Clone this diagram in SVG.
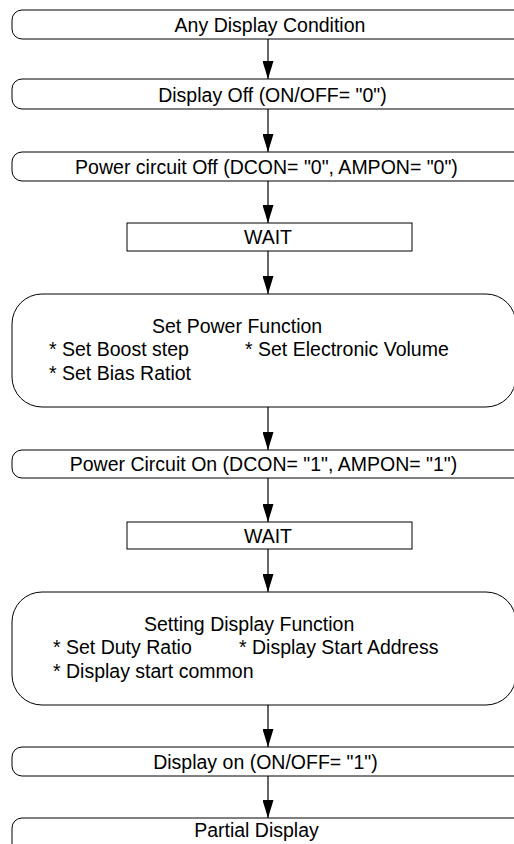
<svg xmlns="http://www.w3.org/2000/svg" width="514" height="844" viewBox="0 0 514 844">
<style>
.box{fill:#fff;stroke:#000;stroke-width:1}
text{font-family:"Liberation Sans",Arial,sans-serif;font-size:19.5px;fill:#000}
.c{text-anchor:middle}
.conn line{stroke:#000;stroke-width:1.2}
</style>
<defs>
<marker id="arr" markerWidth="18" markerHeight="11" refX="18" refY="5.5" orient="auto" markerUnits="userSpaceOnUse" viewBox="0 0 18 11">
<path d="M0,0 L18,5.5 L0,11 Z" fill="#000"/>
</marker>
</defs>
<rect width="514" height="844" fill="#fff"/>
<g id="n1"><rect class="box" x="12" y="10" width="530" height="29" rx="10"/><text class="c" x="270" y="31.5">Any Display Condition</text></g>
<g id="n2"><rect class="box" x="12" y="79" width="530" height="30" rx="10"/><text class="c" x="272.5" y="101.5">Display Off (ON/OFF= "0")</text></g>
<g id="n3"><rect class="box" x="12" y="152" width="530" height="29" rx="10"/><text class="c" x="266.5" y="173.5">Power circuit Off (DCON= "0", AMPON= "0")</text></g>
<g id="n4"><rect class="box" x="127" y="223" width="285" height="28"/><text class="c" x="268" y="244">WAIT</text></g>
<g id="n5"><rect class="box" x="12" y="294" width="504" height="113" rx="30"/>
<text x="152" y="333">Set Power Function</text>
<text x="49" y="356">* Set Boost step</text>
<text x="245" y="356">* Set Electronic Volume</text>
<text x="49" y="380">* Set Bias Ratiot</text></g>
<g id="n6"><rect class="box" x="12" y="450" width="530" height="28" rx="10"/><text class="c" x="263.5" y="471">Power Circuit On (DCON= "1", AMPON= "1")</text></g>
<g id="n7"><rect class="box" x="127" y="522" width="285" height="27"/><text class="c" x="268" y="543">WAIT</text></g>
<g id="n8"><rect class="box" x="12" y="592" width="504" height="113" rx="30"/>
<text x="144" y="631">Setting Display Function</text>
<text x="53" y="654">* Set Duty Ratio</text>
<text x="239" y="654">* Display Start Address</text>
<text x="53" y="678">* Display start common</text></g>
<g id="n9"><rect class="box" x="12" y="747" width="530" height="29" rx="10"/><text class="c" x="265.5" y="769">Display on (ON/OFF= "1")</text></g>
<g id="n10"><rect class="box" x="12" y="818" width="530" height="40" rx="10"/><text class="c" x="256.5" y="837">Partial Display</text></g>
<g id="connectors" class="conn">
<line x1="268" y1="39" x2="268" y2="79" marker-end="url(#arr)"/>
<line x1="268" y1="109" x2="268" y2="152" marker-end="url(#arr)"/>
<line x1="268" y1="181" x2="268" y2="223" marker-end="url(#arr)"/>
<line x1="268" y1="251" x2="268" y2="294" marker-end="url(#arr)"/>
<line x1="268" y1="407" x2="268" y2="450" marker-end="url(#arr)"/>
<line x1="268" y1="478" x2="268" y2="522" marker-end="url(#arr)"/>
<line x1="268" y1="549" x2="268" y2="592" marker-end="url(#arr)"/>
<line x1="268" y1="705" x2="268" y2="747" marker-end="url(#arr)"/>
<line x1="268" y1="776" x2="268" y2="818" marker-end="url(#arr)"/>
</g>
</svg>
